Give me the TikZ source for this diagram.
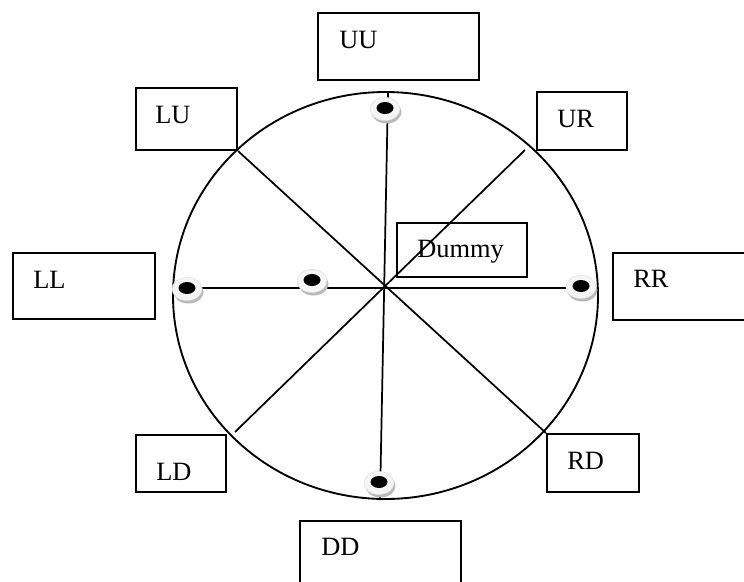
\documentclass[tikz,border=0pt]{standalone}
\usepackage{fontspec}
\setmainfont{Liberation Serif}
\newcommand\mkbox[5]{\node[box,minimum width=#4*0.75pt,minimum height=#5*0.75pt] (#1) at (#2,#3) {};}
\newcommand\mkdot[3]{%
  \coordinate (#1) at (#2,#3);
  \fill[gray!55] ($(#1)+(1.5,4)$) ellipse [x radius=15, y radius=11.5];
  \fill[gray!8] ($(#1)+(0,1)$) ellipse [x radius=15, y radius=11.5];
  \draw[gray!25, line width=0.4pt] ($(#1)+(0,1)$) ellipse [x radius=15, y radius=11.5];
  \fill[black] (#1) ellipse [x radius=8.5, y radius=6];}
\usetikzlibrary{calc}
\begin{document}
\begin{tikzpicture}[x=0.75pt,y=-0.75pt,
  box/.style={draw,line width=1.5pt,rectangle,inner sep=0pt,anchor=north west},
  lbl/.style={anchor=base west,inner sep=0pt,font=\fontsize{19.8}{22}\selectfont},
  ln/.style={line width=1.3pt}]
\useasboundingbox (0,0) rectangle (744,582);
\clip (0,0) rectangle (744,582);
% boxes
\mkbox{uu}{317}{12}{161}{67}
\mkbox{lu}{135}{87}{101}{62}
\mkbox{ur}{536}{91}{90}{58}
\mkbox{ll}{12}{252}{142}{66}
\mkbox{rr}{612}{252}{158}{67}
\mkbox{dummy}{396}{222}{130}{54}
\mkbox{ld}{135}{434}{90}{57}
\mkbox{rd}{546}{433}{92}{58}
\mkbox{dd}{299}{520}{161}{80}
% labels
\node[lbl] (tuu) at (339,48) {UU};
\node[lbl] (tlu) at (155,123) {LU};
\node[lbl] (tur) at (557,127) {UR};
\node[lbl] (tll) at (33,288) {LL};
\node[lbl] (trr) at (633,287) {RR};
\node[lbl] (tdummy) at (417,257) {Dummy};
\node[lbl] (tld) at (156,480) {LD};
\node[lbl] (trd) at (567,469) {RD};
\node[lbl] (tdd) at (321,555) {DD};
% circle
\draw[line width=1.4pt] (385.5,295.5) ellipse [x radius=212.5, y radius=203.5];
% spokes
\coordinate (ctop) at (388,92);
\coordinate (cbot) at (380,500);
\coordinate (cleft) at (174,288);
\coordinate (cright) at (597,288);
\coordinate (urend) at (525,150);
\coordinate (ldend) at (235,432);
\draw[ln] (ctop) -- (cbot);
\draw[ln] (cleft) -- (cright);
\draw[ln] (lu.south east) -- (rd.north west);
\draw[ln] (urend) -- (ldend);
% dots
\mkdot{dtop}{385}{108}
\mkdot{dleft}{187}{288}
\mkdot{dmid}{312}{280}
\mkdot{dright}{581}{286}
\mkdot{dbot}{379}{482}
\end{tikzpicture}
\end{document}
